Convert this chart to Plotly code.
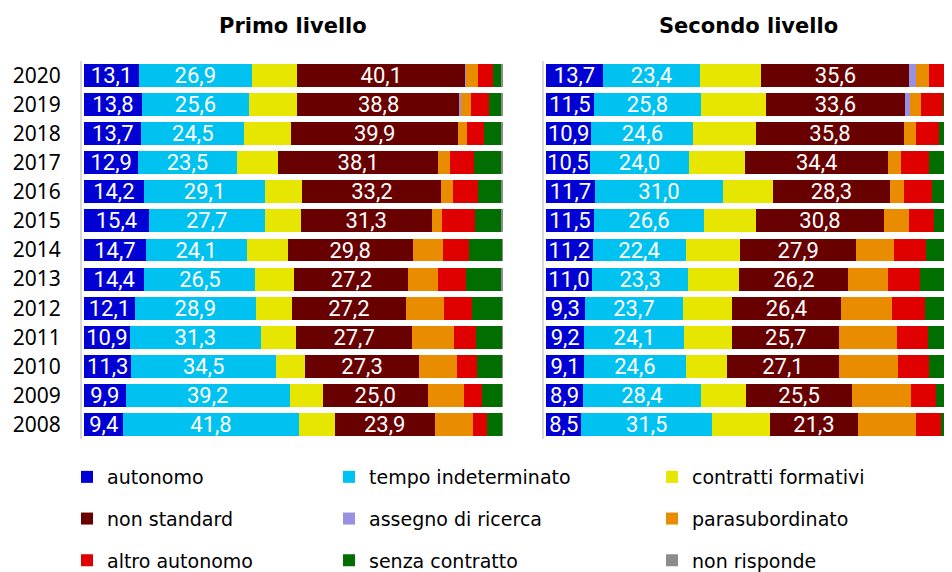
import plotly.graph_objects as go
from plotly.subplots import make_subplots

years = ["2020", "2019", "2018", "2017", "2016", "2015", "2014",
         "2013", "2012", "2011", "2010", "2009", "2008"]

categorie = ["autonomo", "tempo indeterminato", "contratti formativi",
             "non standard", "assegno di ricerca", "parasubordinato",
             "altro autonomo", "senza contratto", "non risponde"]

colori = ["#0000D4", "#00C2F0", "#E6E600", "#680000", "#9890E0",
          "#EA8C00", "#E00000", "#006E00", "#8C8C8C"]

# Primo livello (%)
p_autonomo = [13.1, 13.8, 13.7, 12.9, 14.2, 15.4, 14.7, 14.4, 12.1, 10.9, 11.3, 9.9, 9.4]
p_tempo_ind = [26.9, 25.6, 24.5, 23.5, 29.1, 27.7, 24.1, 26.5, 28.9, 31.3, 34.5, 39.2, 41.8]
p_formativi = [10.9, 11.5, 11.2, 10.0, 8.8, 8.6, 9.8, 9.3, 8.6, 8.4, 6.9, 7.9, 8.6]
p_non_std = [40.1, 38.8, 39.9, 38.1, 33.2, 31.3, 29.8, 27.2, 27.2, 27.7, 27.3, 25.0, 23.9]
p_assegno = [0.1, 0.2, 0, 0, 0, 0, 0, 0, 0, 0, 0, 0, 0]
p_parasub = [2.9, 2.4, 2.1, 2.9, 2.8, 2.5, 7.2, 7.0, 9.1, 10.0, 9.1, 8.8, 9.1]
p_altro_aut = [3.7, 4.3, 4.0, 5.6, 6.0, 7.9, 6.4, 6.7, 6.8, 5.3, 4.8, 4.1, 3.3]
p_senza = [2.0, 3.0, 4.1, 6.5, 5.5, 6.2, 7.8, 8.5, 7.1, 6.3, 5.9, 4.9, 3.7]
p_non_risp = [0.2, 0.4, 0.5, 0.5, 0.4, 0.4, 0.2, 0.4, 0.2, 0.2, 0.2, 0.2, 0.2]

# Secondo livello (%)
s_autonomo = [13.7, 11.5, 10.9, 10.5, 11.7, 11.5, 11.2, 11.0, 9.3, 9.2, 9.1, 8.9, 8.5]
s_tempo_ind = [23.4, 25.8, 24.6, 24.0, 31.0, 26.6, 22.4, 23.3, 23.7, 24.1, 24.6, 28.4, 31.5]
s_formativi = [14.8, 15.6, 15.0, 13.5, 11.9, 12.5, 13.2, 12.3, 11.7, 11.6, 9.8, 10.9, 13.9]
s_non_std = [35.6, 33.6, 35.8, 34.4, 28.3, 30.8, 27.9, 26.2, 26.4, 25.7, 27.1, 25.5, 21.3]
s_assegno = [1.6, 1.2, 0, 0, 0, 0, 0, 0, 0, 0, 0, 0, 0]
s_parasub = [3.2, 2.7, 2.9, 3.1, 3.4, 6.0, 9.2, 9.6, 12.3, 14.0, 14.2, 14.2, 14.0]
s_altro_aut = [4.8, 5.3, 5.5, 6.7, 6.7, 6.0, 7.7, 7.7, 8.0, 7.5, 7.5, 6.0, 6.0]
s_senza = [2.6, 3.9, 5.0, 7.4, 6.7, 6.2, 8.1, 9.6, 8.3, 7.7, 7.4, 5.7, 4.5]
s_non_risp = [0.3, 0.3, 0.3, 0.3, 0.3, 0.3, 0.3, 0.3, 0.3, 0.3, 0.3, 0.3, 0.3]

primo = [p_autonomo, p_tempo_ind, p_formativi, p_non_std, p_assegno,
         p_parasub, p_altro_aut, p_senza, p_non_risp]
secondo = [s_autonomo, s_tempo_ind, s_formativi, s_non_std, s_assegno,
           s_parasub, s_altro_aut, s_senza, s_non_risp]

con_etichetta = {0, 1, 3}
legende = ["legend", "legend2", "legend3"]

fig = make_subplots(rows=1, cols=2, shared_yaxes=True, horizontal_spacing=0)

for col, dati in ((1, primo), (2, secondo)):
    for i, (nome, valori) in enumerate(zip(categorie, dati)):
        fig.add_trace(go.Bar(
            y=years, x=valori, orientation="h", name=nome,
            marker=dict(color=colori[i], line=dict(width=0)),
            texttemplate="%{x:.1f}" if i in con_etichetta else None,
            textposition="inside" if i in con_etichetta else "none",
            insidetextanchor="middle", constraintext="none",
            textfont=dict(family="Roboto", size=22, color="white"),
            legend=legende[i % 3], legendgroup=nome,
            showlegend=(col == 1),
        ), row=1, col=col)

# the page sits 8px in from the top-left corner, so everything is offset by -8
W, H = 952, 572
ml, mr, mt, mb = 74, 8, 53, 141
pw = W - ml - mr
ph = H - mt - mb
fig.update_layout(
    width=W, height=H,
    barmode="stack", bargap=0.21,
    separators=",.",
    plot_bgcolor="white", paper_bgcolor="white",
    margin=dict(l=ml, r=mr, t=mt, b=mb, autoexpand=False),
    font=dict(family="DejaVu Sans", color="black"),
)
fig.update_xaxes(visible=False, showgrid=False, zeroline=False, fixedrange=True)
fig.update_xaxes(domain=[0, 421 / pw], range=[-0.5, 100], row=1, col=1)
fig.update_xaxes(domain=[(536 - ml) / pw, 1], range=[-0.5, 97.8], row=1, col=2)
fig.update_yaxes(categoryorder="array", categoryarray=years[::-1],
                 showgrid=False, zeroline=False, showline=True,
                 linecolor="#d9d9d9", linewidth=2, ticks="")
fig.update_yaxes(tickfont=dict(family="Noto Sans", size=21, color="black"),
                 ticklabelstandoff=15, row=1, col=1)

y_titolo = (H - mb - 18) / ph
for xr, testo in (("x domain", "Primo livello"), ("x2 domain", "Secondo livello")):
    fig.add_annotation(x=0.5, xref=xr, y=y_titolo, yref="paper",
                       yanchor="middle", text="<b>" + testo + "</b>",
                       showarrow=False,
                       font=dict(family="DejaVu Sans", size=21, color="black"))

col_x = [59, 321, 644]
for k, leg in enumerate(legende):
    fig.update_layout({leg: dict(
        xref="container", yref="container",
        x=col_x[k] / W, y=1 - 450 / H, xanchor="left", yanchor="top",
        orientation="v", traceorder="grouped", tracegroupgap=14,
        font=dict(family="DejaVu Sans", size=19, color="black"),
        bgcolor="rgba(0,0,0,0)",
    )})

fig.write_html("out.html")
